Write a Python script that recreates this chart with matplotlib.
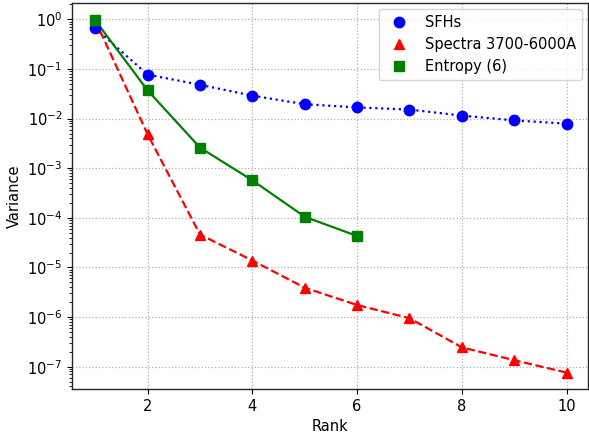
import matplotlib
matplotlib.use("Agg")
import matplotlib.pyplot as plt

rank_sfh = [1, 2, 3, 4, 5, 6, 7, 8, 9, 10]
var_sfh = [0.66, 0.077, 0.048, 0.029, 0.0195, 0.0168, 0.0152, 0.0115, 0.0092, 0.0079]

rank_spec = [1, 2, 3, 4, 5, 6, 7, 8, 9, 10]
var_spec = [0.95, 0.0048, 4.6e-5, 1.38e-5, 3.9e-6, 1.75e-6, 9.5e-7, 2.45e-7, 1.35e-7, 7.6e-8]

rank_ent = [1, 2, 3, 4, 5, 6]
var_ent = [0.95, 0.037, 0.0026, 5.7e-4, 1.05e-4, 4.3e-5]

labels = ["SFHs", "Spectra 3700-6000A", "Entropy (6)"]

plt.rcParams["font.size"] = 10.5

fig = plt.figure(figsize=(5.89, 4.38), dpi=100)
ax = fig.add_axes([72/589, 1 - 389/438, (588-72)/589, (389-3)/438])

ax.plot(rank_sfh, var_sfh, color="blue", linestyle=":", linewidth=1.6)
ax.plot(rank_spec, var_spec, color="red", linestyle="--", linewidth=1.6)
ax.plot(rank_ent, var_ent, color="green", linestyle="-", linewidth=1.6)
ax.plot(rank_sfh, var_sfh, "o", color="blue", markersize=7.5, linestyle="none", label=labels[0])
ax.plot(rank_spec, var_spec, "^", color="red", markersize=7.5, linestyle="none", label=labels[1])
ax.plot(rank_ent, var_ent, "s", color="green", markersize=7.5, linestyle="none", label=labels[2])

ax.set_yscale("log")
ax.set_ylim(10**-7.45, 10**0.33)
ax.set_xlim(0.555, 10.41)
ax.set_xticks([2, 4, 6, 8, 10])
ax.grid(True, linestyle=":", color="#b0b0b0", linewidth=0.9)
for s in ax.spines.values():
    s.set_color("#262626")
    s.set_linewidth(1.0)
ax.set_xlabel("Rank")
ax.set_ylabel("Variance")
ax.legend(loc="upper right", borderaxespad=0.4)

fig.savefig("out.png", dpi=100)
